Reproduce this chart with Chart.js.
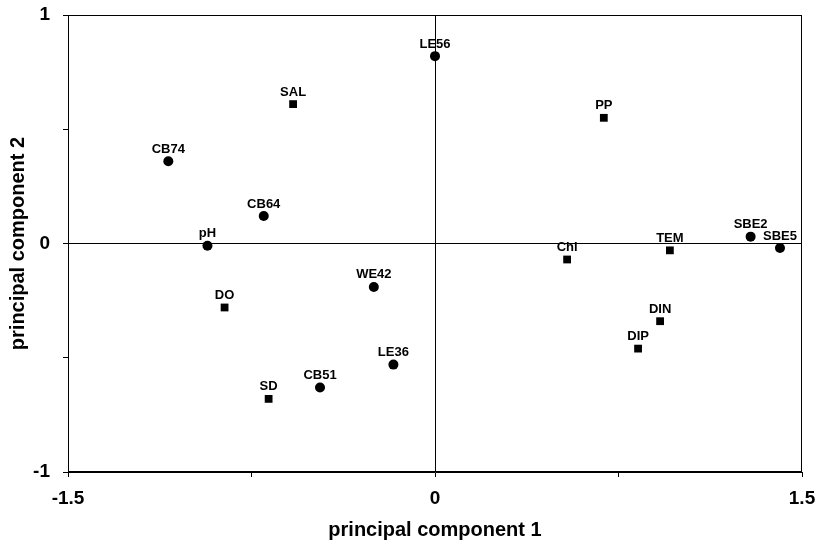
<!DOCTYPE html>
<html>
<head>
<meta charset="utf-8">
<script src="https://cdn.jsdelivr.net/npm/chart.js@4.4.0/dist/chart.umd.min.js"></script>
<style>
html,body{margin:0;padding:0;background:#fff;}
#wrap{width:816px;height:551px;}
</style>
</head>
<body>
<div id="wrap"><canvas id="c" width="816" height="551"></canvas></div>
<script>
// Sites (circles)
const siteLabels = ['LE56','CB74','CB64','pH','WE42','LE36','CB51','SBE2','SBE5'];
const siteX = [0.00, -1.09, -0.70, -0.93, -0.25, -0.17, -0.47, 1.29, 1.41];
const siteY = [0.82, 0.36, 0.12, -0.01, -0.19, -0.53, -0.63, 0.03, -0.02];
// Variables (squares)
const varLabels = ['SAL','PP','Chl','TEM','DIN','DIP','DO','SD'];
const varX = [-0.58, 0.69, 0.54, 0.96, 0.92, 0.83, -0.86, -0.68];
const varY = [0.61, 0.55, -0.07, -0.03, -0.34, -0.46, -0.28, -0.68];
// Axis tick labels
const xTickLabels = {'-1.5':'-1.5','0':'0','1.5':'1.5'};
const yTickLabels = {'1':'1','0':'0','-1':'-1'};

const toPts = (xs, ys) => xs.map((x, i) => ({x: x, y: ys[i]}));

const labelPlugin = {
  id: 'pointLabels',
  afterDatasetsDraw(chart) {
    const ctx = chart.ctx;
    ctx.save();
    ctx.font = 'bold 13px "Liberation Sans", Arial, sans-serif';
    ctx.fillStyle = '#000';
    ctx.textAlign = 'center';
    ctx.textBaseline = 'middle';
    chart.data.datasets.forEach((ds, di) => {
      const meta = chart.getDatasetMeta(di);
      meta.data.forEach((el, i) => {
        ctx.fillText(ds.pointLabels[i], el.x, el.y - 12);
      });
    });
    ctx.restore();
  }
};

const framePlugin = {
  id: 'frame',
  afterDraw(chart) {
    const a = chart.chartArea;
    const ctx = chart.ctx;
    ctx.save();
    ctx.strokeStyle = '#000';
    ctx.lineWidth = 1;
    ctx.strokeRect(a.left + 0.5, a.top + 0.5, a.right - a.left - 1, a.bottom - a.top - 1);
    ctx.restore();
  }
};

const axisFont = {family: '"Liberation Sans", Arial, sans-serif', weight: 'bold', size: 19};
const titleFont = {family: '"Liberation Sans", Arial, sans-serif', weight: 'bold', size: 20};

new Chart(document.getElementById('c'), {
  type: 'scatter',
  data: {
    datasets: [
      {
        label: 'sites',
        data: toPts(siteX, siteY),
        pointLabels: siteLabels,
        pointStyle: 'circle',
        pointRadius: 5,
        backgroundColor: '#000',
        borderColor: '#000',
        borderWidth: 0
      },
      {
        label: 'variables',
        data: toPts(varX, varY),
        pointLabels: varLabels,
        pointStyle: 'rect',
        pointRadius: 5.5,
        backgroundColor: '#000',
        borderColor: '#000',
        borderWidth: 0
      }
    ]
  },
  options: {
    responsive: false,
    animation: false,
    layout: {padding: {top: 15, right: 14, left: 0, bottom: 0}},
    plugins: {legend: {display: false}, tooltip: {enabled: false}},
    scales: {
      x: {
        type: 'linear',
        min: -1.5, max: 1.5,
        afterFit(s) { s.height = 79; s.paddingLeft = 0; s.paddingRight = 0; },
        ticks: {
          stepSize: 0.75,
          color: '#000',
          font: axisFont,
          padding: 10,
          maxRotation: 0,
          autoSkip: false,
          callback: v => xTickLabels[String(v)] || ''
        },
        grid: {
          color: c => (c.tick && c.tick.value === 0) ? '#000' : 'rgba(0,0,0,0)',
          lineWidth: 1,
          tickColor: '#000',
          tickLength: 5,
          drawOnChartArea: true
        },
        border: {display: true, color: '#000', width: 1},
        title: {display: true, text: 'principal component 1', color: '#000', font: titleFont, padding: {top: 2, bottom: 9}}
      },
      y: {
        type: 'linear',
        min: -1, max: 1,
        afterFit(s) { s.width = 68; s.paddingTop = 0; s.paddingBottom = 0; },
        ticks: {
          stepSize: 0.5,
          color: '#000',
          font: axisFont,
          padding: 13,
          autoSkip: false,
          callback: v => yTickLabels[String(v)] || ''
        },
        grid: {
          color: c => (c.tick && c.tick.value === 0) ? '#000' : 'rgba(0,0,0,0)',
          lineWidth: 1,
          tickColor: '#000',
          tickLength: 5,
          drawOnChartArea: true
        },
        border: {display: true, color: '#000', width: 1},
        title: {display: true, text: 'principal component 2', color: '#000', font: titleFont, padding: {top: 6, bottom: 2}}
      }
    }
  },
  plugins: [labelPlugin, framePlugin]
});
</script>
</body>
</html>
